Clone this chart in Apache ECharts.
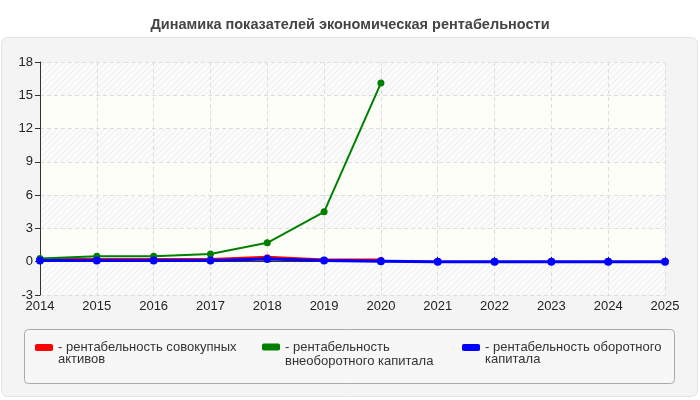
<!DOCTYPE html>
<html><head><meta charset="utf-8">
<script src="https://cdn.jsdelivr.net/npm/echarts@6/dist/echarts.min.js"></script>
<style>html,body{margin:0;padding:0;background:#fff}#c{width:700px;height:400px}</style>
</head><body><div id="c"></div>
<script>
const years = ['2014','2015','2016','2017','2018','2019','2020','2021','2022','2023','2024','2025'];
const assetsROA = [0.2,0.2,0.2,0.2,0.4,0.15,0.15,null,null,null,null,null];
const nonCurrentROA = [0.3,0.5,0.5,0.7,1.7,4.5,16.1,null,null,null,null,null];
const currentROA = [0.1,0.1,0.1,0.1,0.25,0.1,0.05,0,0,0,0,0];
const yTicks = {min:-3,max:18,interval:3};
const names = ['рентабельность совокупных активов','рентабельность внеоборотного капитала','рентабельность оборотного капитала'];
const legendLabels = ['- рентабельность совокупных\nактивов','- рентабельность\nвнеоборотного капитала','- рентабельность оборотного\nкапитала'];

function hatch(){
  const c=document.createElement('canvas');c.width=6;c.height=6;
  const g=c.getContext('2d');g.fillStyle='#fbfbfb';g.fillRect(0,0,6,6);
  g.strokeStyle='#ececec';g.lineWidth=1;
  g.beginPath();g.moveTo(0,6);g.lineTo(6,0);g.moveTo(-1,1);g.lineTo(1,-1);g.moveTo(5,7);g.lineTo(7,5);g.stroke();
  return {image:c,repeat:'repeat'};
}
const chart = echarts.init(document.getElementById('c'),null,{renderer:'canvas'});
const font = 'Arial, "Liberation Sans", sans-serif';
const colors=['#ff0000','#008000','#0000ff'];
const lh=[12,14,12];
const legends = names.map((n,i)=>({
  data:[n], left:[35,262,462][i], top:347-1.5*lh[i], orient:'horizontal', padding:0,
  itemWidth:18,itemHeight:7,itemGap:0,icon:'roundRect',
  formatter:()=>' \n'+legendLabels[i],
  textStyle:{fontFamily:font,fontSize:13,color:'#333',lineHeight:lh[i]},
  selectedMode:false
}));
chart.setOption({
  animation:false,
  color:colors,
  title:{text:'Динамика показателей экономическая рентабельности',left:'center',top:12,
    textStyle:{fontFamily:font,fontSize:14.5,fontWeight:'bold',color:'#444'}},
  graphic:[
    {type:'rect',z:-10,shape:{x:1.5,y:37.5,width:696,height:359,r:6},style:{fill:'#f4f4f4',stroke:'#e4e4e4',lineWidth:1}},
    {type:'rect',z:-5,shape:{x:24.5,y:329.5,width:650,height:54,r:4},style:{fill:'#f7f7f7',stroke:'#aaaaaa',lineWidth:1}}
  ],
  legend:legends,
  grid:{left:40,right:35,top:62,bottom:105,show:true,backgroundColor:'#fdfdf7',borderWidth:0},
  xAxis:{type:'category',data:years,boundaryGap:false,
    axisLine:{lineStyle:{color:'#333'}},axisTick:{show:true,inside:true,length:5,alignWithLabel:true,lineStyle:{color:'#333'}},
    axisLabel:{fontFamily:font,fontSize:13,color:'#222',margin:5},
    splitLine:{show:true,lineStyle:{color:'#dddddd',type:[4,3]}}},
  yAxis:{type:'value',min:yTicks.min,max:yTicks.max,interval:yTicks.interval,
    axisLine:{show:true,lineStyle:{color:'#333'}},axisTick:{show:true,length:5,lineStyle:{color:'#333'}},
    axisLabel:{fontFamily:font,fontSize:13,color:'#222',margin:7},
    splitLine:{show:true,lineStyle:{color:'#dddddd',type:[4,3]}},
    splitArea:{show:true,areaStyle:{color:[hatch(),'#fefef8']}}},
  series:[
    {name:names[0],type:'line',data:assetsROA,symbol:'circle',symbolSize:6,lineStyle:{width:3,color:colors[0]},itemStyle:{color:colors[0]},z:2},
    {name:names[1],type:'line',data:nonCurrentROA,symbol:'circle',symbolSize:7,lineStyle:{width:2,color:colors[1]},itemStyle:{color:colors[1]},z:3},
    {name:names[2],type:'line',data:currentROA,symbol:'circle',symbolSize:8,lineStyle:{width:3,color:colors[2]},itemStyle:{color:colors[2]},z:4}
  ]
});
</script></body></html>
